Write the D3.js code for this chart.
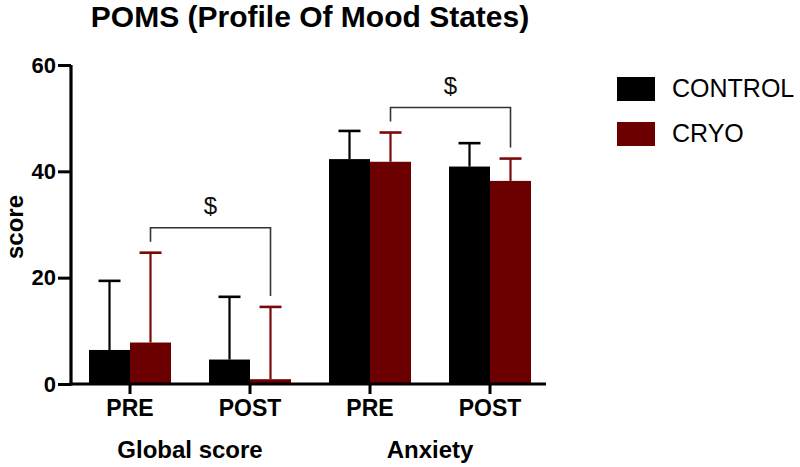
<!DOCTYPE html>
<html>
<head>
<meta charset="utf-8">
<script src="https://cdn.jsdelivr.net/npm/d3@7"></script>
<style>
  html, body { margin: 0; padding: 0; background: #fff; }
  svg { display: block; font-family: "Liberation Sans", Arial, Helvetica, sans-serif; }
</style>
</head>
<body>
<svg id="chart" width="800" height="467"></svg>
<script>
// ---- data ----
const timepoints = ["PRE", "POST", "PRE", "POST"];
const measures = ["Global score", "Anxiety"];
const seriesNames = ["CONTROL", "CRYO"];
const controlMean = [6.4, 4.6, 42.3, 40.9];
const controlSD   = [13.0, 11.8, 5.3, 4.4];
const cryoMean    = [7.8, 0.9, 41.8, 38.2];
const cryoSD      = [16.9, 13.6, 5.5, 4.2];
const yTicks = [0, 20, 40, 60];
// significance brackets between CRYO bars: from group index, to group index, label
const bracketFrom = [0, 2];
const bracketTo   = [1, 3];
const bracketLabel = ["$", "$"];

// ---- layout ----
const svg = d3.select("#chart");
const colors = { CONTROL: "#000000", CRYO: "#6c0000" };
const errColors = { CONTROL: "#000000", CRYO: "#7a0a0a" };

const groupIds = timepoints.map((t, i) => i);
const x = d3.scaleBand().domain(groupIds).range([70, 550]).padding(0);
const barW = 41;
const xs = d3.scaleBand().domain(seriesNames).range([-barW, barW]);
const y = d3.scaleLinear().domain([0, 60]).range([384, 65]);

const rows = [];
groupIds.forEach(i => {
  rows.push({ g: i, s: "CONTROL", v: controlMean[i], e: controlSD[i] });
  rows.push({ g: i, s: "CRYO", v: cryoMean[i], e: cryoSD[i] });
});
const cx = d => x(d.g) + x.bandwidth() / 2 + xs(d.s) + xs.bandwidth() / 2;

// bars
svg.append("g").selectAll("rect").data(rows).join("rect")
  .attr("x", d => x(d.g) + x.bandwidth() / 2 + xs(d.s))
  .attr("y", d => y(d.v))
  .attr("width", xs.bandwidth())
  .attr("height", d => y(0) - y(d.v))
  .attr("fill", d => colors[d.s]);

// error bars (upper only)
const eg = svg.append("g");
eg.selectAll("line.v").data(rows).join("line")
  .attr("x1", cx).attr("x2", cx)
  .attr("y1", d => y(d.v)).attr("y2", d => y(d.v + d.e))
  .attr("stroke", d => errColors[d.s]).attr("stroke-width", 2.2);
eg.selectAll("line.c").data(rows).join("line")
  .attr("x1", d => cx(d) - 11).attr("x2", d => cx(d) + 11)
  .attr("y1", d => y(d.v + d.e)).attr("y2", d => y(d.v + d.e))
  .attr("stroke", d => errColors[d.s]).attr("stroke-width", 2.6);

// axes
const yAxis = d3.axisLeft(y).tickValues(yTicks).tickSize(13).tickPadding(2).tickSizeOuter(0);
const yg = svg.append("g").attr("transform", "translate(71,0)").call(yAxis);
yg.select(".domain").attr("stroke-width", 3.2).attr("d", `M0,${y(60)}V${y(0)+1.5}`);
yg.selectAll(".tick line").attr("stroke-width", 3);
yg.selectAll(".tick text").attr("font-size", 22).attr("font-weight", "bold")
  .attr("font-family", "Liberation Sans, Arial, sans-serif").attr("fill", "#000");

const xAxis = d3.axisBottom(x).tickFormat(i => timepoints[i]).tickSize(10).tickPadding(6).tickSizeOuter(0);
const xg = svg.append("g").attr("transform", `translate(0,${y(0)})`).call(xAxis);
xg.select(".domain").attr("stroke-width", 3.2).attr("d", "M69.5,0H546");
xg.selectAll(".tick line").attr("stroke-width", 3);
xg.selectAll(".tick text").attr("font-size", 23).attr("font-weight", "bold")
  .attr("font-family", "Liberation Sans, Arial, sans-serif").attr("fill", "#000");

// measure labels
measures.forEach((m, k) => {
  const c = (x(2 * k) + x(2 * k + 1) + x.bandwidth()) / 2;
  svg.append("text").attr("x", c).attr("y", 458).attr("text-anchor", "middle")
    .attr("font-size", 24).attr("font-weight", "bold").text(m);
});

// y label
svg.append("text").attr("transform", "translate(23,227) rotate(-90)")
  .attr("text-anchor", "middle").attr("font-size", 24).attr("font-weight", "bold").text("score");

// title
svg.append("text").attr("x", 310).attr("y", 27).attr("text-anchor", "middle")
  .attr("font-size", 30).attr("font-weight", "bold").text("POMS (Profile Of Mood States)");

// significance brackets (between CRYO bars)
bracketFrom.forEach((f, k) => {
  const t = bracketTo[k];
  const a = rows.find(r => r.g === f && r.s === "CRYO");
  const b = rows.find(r => r.g === t && r.s === "CRYO");
  const ya = y(a.v + a.e) - 11, yb = y(b.v + b.e) - 11;
  const top = Math.min(y(a.v + a.e), y(b.v + b.e)) - 25;
  const xa = cx(a), xb = cx(b);
  svg.append("path").attr("d", `M${xa},${ya}V${top}H${xb}V${yb}`)
    .attr("fill", "none").attr("stroke", "#333").attr("stroke-width", 1.6);
  svg.append("text").attr("x", (xa + xb) / 2).attr("y", top - 14).attr("text-anchor", "middle")
    .attr("font-size", 24).attr("fill", "#111").text(bracketLabel[k]);
});

// legend
const lg = svg.append("g");
seriesNames.forEach((s, i) => {
  lg.append("rect").attr("x", 617).attr("y", 77 + i * 45).attr("width", 38).attr("height", 24)
    .attr("fill", colors[s]);
  lg.append("text").attr("x", 672).attr("y", 97 + i * 45).attr("font-size", 25).attr("fill", "#000").text(s);
});
</script>
</body>
</html>
